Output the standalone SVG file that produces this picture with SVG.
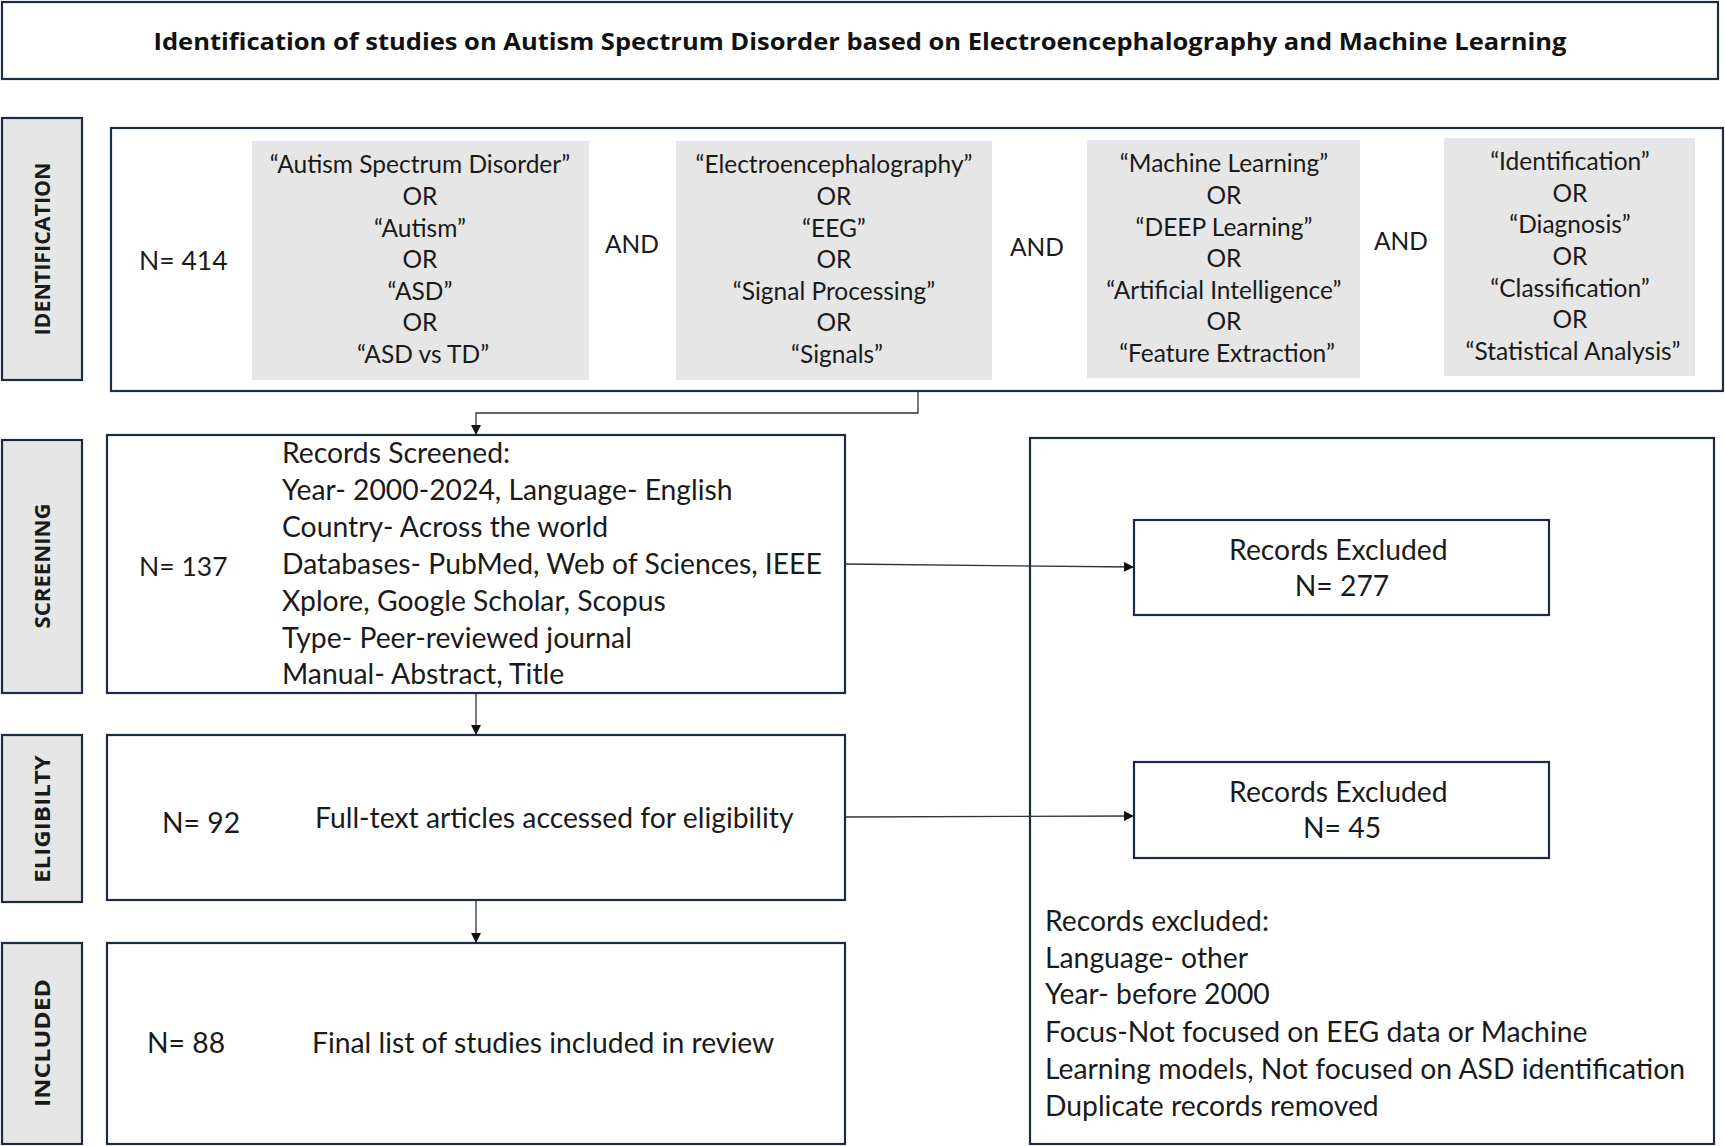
<svg xmlns="http://www.w3.org/2000/svg" width="1725" height="1146" viewBox="0 0 1725 1146">
<style>
.box{fill:#ffffff;stroke:#1f2a44;stroke-width:2.2}
.lab{fill:#e6e6e6;stroke:#1f2a44;stroke-width:2.2}
.gray{fill:#e6e6e6;stroke:none}
.t{font-family:Lato,"Open Sans","Liberation Sans",sans-serif;font-size:24.5px;fill:#1a1a1a}
.n{font-size:26.5px}
.b{font-size:28.3px}
.c{text-anchor:middle}
.vt{font-family:"Open Sans","Liberation Sans",sans-serif;font-weight:700;font-size:21px;fill:#1a1a1a;text-anchor:middle}
.title{font-family:"Open Sans","Liberation Sans",sans-serif;font-weight:700;font-size:24px;fill:#111;text-anchor:middle}
.conn{fill:none;stroke:#333;stroke-width:1.3}
</style>
<defs>
<marker id="arr" viewBox="0 0 10 10" refX="10" refY="5" markerWidth="10" markerHeight="10" markerUnits="userSpaceOnUse" orient="auto">
<path d="M0,0 L10,5 L0,10 z" fill="#111"/>
</marker>
</defs>

<g id="title">
<rect class="box" x="2" y="2" width="1716" height="77"/>
<text class="title" x="860" y="50" textLength="1413" lengthAdjust="spacingAndGlyphs">Identification of studies on Autism Spectrum Disorder based on Electroencephalography and Machine Learning</text>
</g>

<g id="label-identification">
<rect class="lab" x="2" y="118" width="80" height="262"/>
<text class="vt" transform="translate(50,249) rotate(-90)" textLength="173" lengthAdjust="spacingAndGlyphs">IDENTIFICATION</text>
</g>
<g id="label-screening">
<rect class="lab" x="2" y="440" width="80" height="253"/>
<text class="vt" transform="translate(50,566) rotate(-90)" textLength="125" lengthAdjust="spacingAndGlyphs">SCREENING</text>
</g>
<g id="label-eligibility">
<rect class="lab" x="2" y="735" width="80" height="167"/>
<text class="vt" transform="translate(50,819) rotate(-90)" textLength="128" lengthAdjust="spacingAndGlyphs">ELIGIBILTY</text>
</g>
<g id="label-included">
<rect class="lab" x="2" y="943" width="80" height="201"/>
<text class="vt" transform="translate(50,1043) rotate(-90)" textLength="128" lengthAdjust="spacingAndGlyphs">INCLUDED</text>
</g>

<g id="identification">
<rect class="box" x="111" y="128" width="1612" height="263"/>
<text class="t n" x="139" y="270">N= 414</text>
<rect class="gray" x="252" y="141" width="337" height="239"/>
<text class="t c">
<tspan x="423" y="173">“Autism Spectrum Disorder”</tspan>
<tspan x="423" y="205">OR</tspan>
<tspan x="423" y="237">“Autism”</tspan>
<tspan x="423" y="268">OR</tspan>
<tspan x="423" y="300">“ASD”</tspan>
<tspan x="423" y="331">OR</tspan>
<tspan x="423" y="363">“ASD vs TD”</tspan>
</text>
<text class="t c" x="632" y="253">AND</text>
<rect class="gray" x="676" y="141" width="316" height="239"/>
<text class="t c">
<tspan x="837" y="173">“Electroencephalography”</tspan>
<tspan x="837" y="205">OR</tspan>
<tspan x="837" y="237">“EEG”</tspan>
<tspan x="837" y="268">OR</tspan>
<tspan x="837" y="300">“Signal Processing”</tspan>
<tspan x="837" y="331">OR</tspan>
<tspan x="837" y="363">“Signals”</tspan>
</text>
<text class="t c" x="1037" y="256">AND</text>
<rect class="gray" x="1087" y="140" width="273" height="238"/>
<text class="t c">
<tspan x="1227" y="172">“Machine Learning”</tspan>
<tspan x="1227" y="204">OR</tspan>
<tspan x="1227" y="236">“DEEP Learning”</tspan>
<tspan x="1227" y="267">OR</tspan>
<tspan x="1227" y="299">“Artificial Intelligence”</tspan>
<tspan x="1227" y="330">OR</tspan>
<tspan x="1227" y="362">“Feature Extraction”</tspan>
</text>
<text class="t c" x="1401" y="250">AND</text>
<rect class="gray" x="1444" y="138" width="251" height="238"/>
<text class="t c">
<tspan x="1573" y="170">“Identification”</tspan>
<tspan x="1573" y="202">OR</tspan>
<tspan x="1573" y="233">“Diagnosis”</tspan>
<tspan x="1573" y="265">OR</tspan>
<tspan x="1573" y="297">“Classification”</tspan>
<tspan x="1573" y="328">OR</tspan>
<tspan x="1573" y="360">“Statistical Analysis”</tspan>
</text>
</g>

<g id="screening">
<rect class="box" x="107" y="435" width="738" height="258"/>
<text class="t n" x="139" y="576">N= 137</text>
<text class="t b">
<tspan x="282" y="463">Records Screened:</tspan>
<tspan x="282" y="500">Year- 2000-2024, Language- English</tspan>
<tspan x="282" y="537">Country- Across the world</tspan>
<tspan x="282" y="574">Databases- PubMed, Web of Sciences, IEEE</tspan>
<tspan x="282" y="611">Xplore, Google Scholar, Scopus</tspan>
<tspan x="282" y="648">Type- Peer-reviewed journal</tspan>
<tspan x="282" y="684">Manual- Abstract, Title</tspan>
</text>
</g>

<g id="eligibility">
<rect class="box" x="107" y="735" width="738" height="165"/>
<text class="t b" x="162" y="833">N= 92</text>
<text class="t b" x="315" y="828">Full-text articles accessed for eligibility</text>
</g>

<g id="included">
<rect class="box" x="107" y="943" width="738" height="201"/>
<text class="t b" x="147" y="1053">N= 88</text>
<text class="t b" x="312" y="1053">Final list of studies included in review</text>
</g>

<g id="excluded-panel">
<rect class="box" x="1030" y="438" width="684" height="706"/>
<text class="t b">
<tspan x="1045" y="931">Records excluded:</tspan>
<tspan x="1045" y="968">Language- other</tspan>
<tspan x="1045" y="1004">Year- before 2000</tspan>
<tspan x="1045" y="1042">Focus-Not focused on EEG data or Machine</tspan>
<tspan x="1045" y="1079">Learning models, Not focused on ASD identification</tspan>
<tspan x="1045" y="1116">Duplicate records removed</tspan>
</text>
</g>

<g id="excluded-1">
<rect class="box" x="1134" y="520" width="415" height="95"/>
<text class="t b c">
<tspan x="1342" y="560">Records Excluded</tspan>
<tspan x="1342" y="596">N= 277</tspan>
</text>
</g>

<g id="excluded-2">
<rect class="box" x="1134" y="762" width="415" height="96"/>
<text class="t b c">
<tspan x="1342" y="802">Records Excluded</tspan>
<tspan x="1342" y="838">N= 45</tspan>
</text>
</g>

<g id="connectors">
<path class="conn" d="M918,391 V413 H476 V435" marker-end="url(#arr)"/>
<path class="conn" d="M476,693 V735" marker-end="url(#arr)"/>
<path class="conn" d="M476,900 V943" marker-end="url(#arr)"/>
<path class="conn" d="M845,564 L1134,567" marker-end="url(#arr)"/>
<path class="conn" d="M845,817 L1134,816" marker-end="url(#arr)"/>
</g>
</svg>
